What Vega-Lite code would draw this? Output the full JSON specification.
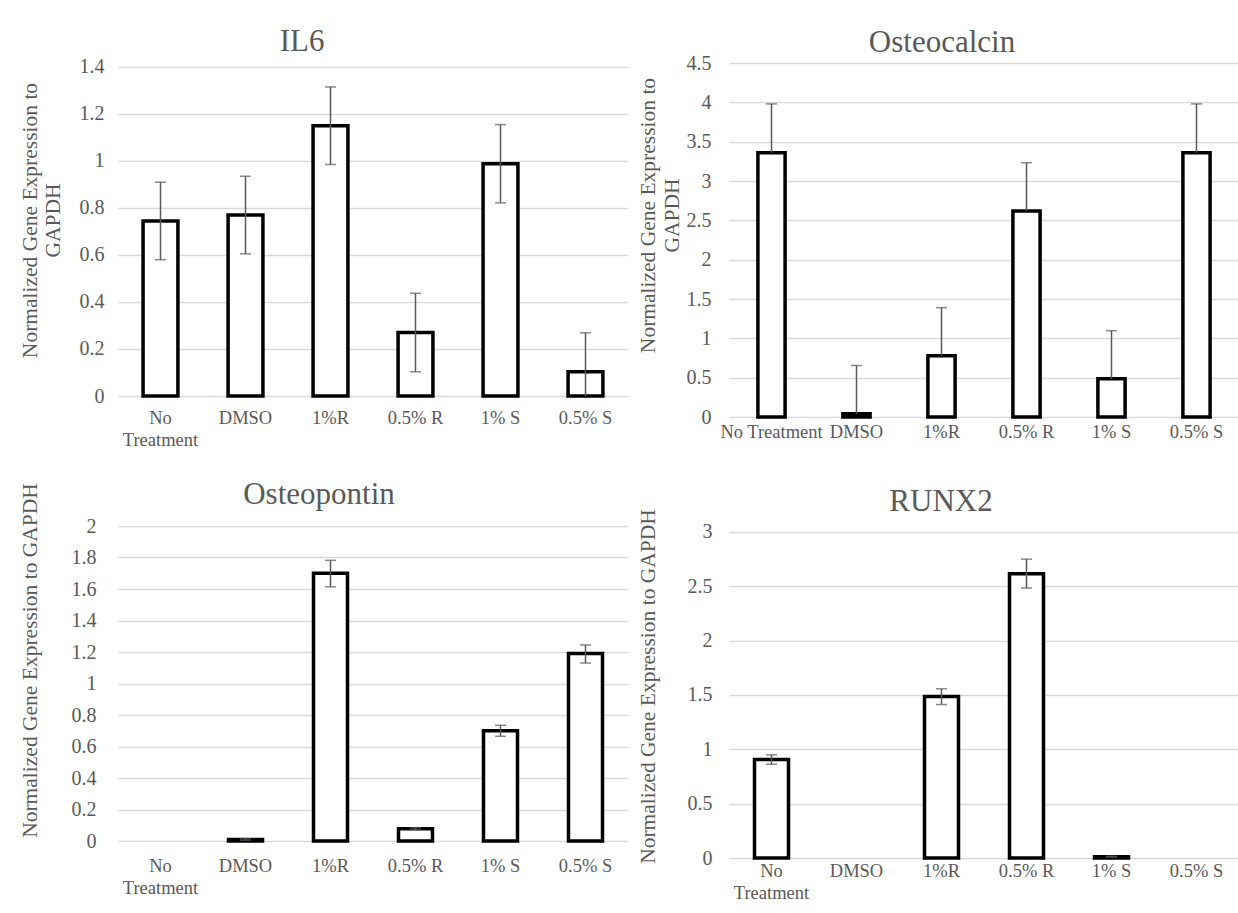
{
  "$schema": "https://vega.github.io/schema/vega-lite/v6.json",
  "background": "white",
  "padding": {"left": 18, "top": 25, "right": 0, "bottom": 0},
  "columns": 2,
  "bounds": "flush",
  "spacing": {"row": 109, "column": 101},
  "concat": [
    {
      "width": 510,
      "height": 333,
      "title": {"text": "IL6", "dx": -71, "offset": -25, "baseline": "alphabetic", "anchor": "middle"},
      "data": {"values": [
        {"treatment": "No Treatment", "value": 0.745, "lo": 0.58, "hi": 0.91, "capLo": 0.58},
        {"treatment": "DMSO", "value": 0.77, "lo": 0.605, "hi": 0.935, "capLo": 0.605},
        {"treatment": "1%R", "value": 1.15, "lo": 0.985, "hi": 1.315, "capLo": 0.985},
        {"treatment": "0.5% R", "value": 0.27, "lo": 0.103, "hi": 0.437, "capLo": 0.103},
        {"treatment": "1% S", "value": 0.988, "lo": 0.822, "hi": 1.155, "capLo": 0.822},
        {"treatment": "0.5% S", "value": 0.103, "lo": 0, "hi": 0.269, "capLo": null}
      ]},
      "encoding": {
        "x": {"field": "treatment", "type": "nominal", "sort": null,
              "scale": {"domain": ["No Treatment", "DMSO", "1%R", "0.5% R", "1% S", "0.5% S"], "paddingInner": 0.59, "paddingOuter": 0.295},
              "axis": {"title": null, "labelPadding": 12, "labelFont": "Liberation Serif", "labelFontSize": 18.5, "labelColor": "#595959", "labelLineHeight": 22, "labelAngle": 0, "grid": false, "domain": false, "ticks": false,
                       "labelExpr": "datum.value == 'No Treatment' ? ['No', 'Treatment'] : datum.value"}}
      },
      "layer": [
        {"mark": {"type": "bar", "fill": "white", "stroke": "black", "strokeWidth": 3.5},
         "encoding": {"y": {"field": "value", "type": "quantitative",
           "scale": {"domain": [0, 1.417], "nice": false},
           "axis": {"values": [0, 0.2, 0.4, 0.6, 0.8, 1, 1.2, 1.4], "format": "~g", "labelPadding": 14, "labelOverlap": false,
                    "labelFont": "Liberation Serif", "titleFont": "Liberation Serif", "labelFontSize": 20, "titleFontSize": 21.5,
                    "labelColor": "#595959", "titleColor": "#595959", "titleFontWeight": "normal", "domain": false, "ticks": false,
                    "gridColor": "#d9d9d9", "gridWidth": 1.3,
                    "title": ["Normalized Gene Expression to", "GAPDH"], "titleX": -88, "titleY": 157,
                    "titleAngle": 270, "titleAlign": "center", "titleBaseline": "middle", "titleLineHeight": 23}}}},
        {"mark": {"type": "rule", "color": "#595959", "strokeWidth": 1.5},
         "encoding": {"y": {"field": "lo", "type": "quantitative",
           "axis": {"values": [0, 0.2, 0.4, 0.6, 0.8, 1, 1.2, 1.4], "format": "~g", "labelPadding": 14, "labelOverlap": false,
                    "labelFont": "Liberation Serif", "titleFont": "Liberation Serif", "labelFontSize": 20, "titleFontSize": 21.5,
                    "labelColor": "#595959", "titleColor": "#595959", "titleFontWeight": "normal", "domain": false, "ticks": false,
                    "gridColor": "#d9d9d9", "gridWidth": 1.3,
                    "title": ["Normalized Gene Expression to", "GAPDH"], "titleX": -88, "titleY": 157,
                    "titleAngle": 270, "titleAlign": "center", "titleBaseline": "middle", "titleLineHeight": 23}}, "y2": {"field": "hi"}}},
        {"mark": {"type": "tick", "color": "#595959", "thickness": 1.5, "size": 11, "orient": "horizontal"},
         "encoding": {"y": {"field": "hi", "type": "quantitative",
           "axis": {"values": [0, 0.2, 0.4, 0.6, 0.8, 1, 1.2, 1.4], "format": "~g", "labelPadding": 14, "labelOverlap": false,
                    "labelFont": "Liberation Serif", "titleFont": "Liberation Serif", "labelFontSize": 20, "titleFontSize": 21.5,
                    "labelColor": "#595959", "titleColor": "#595959", "titleFontWeight": "normal", "domain": false, "ticks": false,
                    "gridColor": "#d9d9d9", "gridWidth": 1.3,
                    "title": ["Normalized Gene Expression to", "GAPDH"], "titleX": -88, "titleY": 157,
                    "titleAngle": 270, "titleAlign": "center", "titleBaseline": "middle", "titleLineHeight": 23}}}},
        {"mark": {"type": "tick", "color": "#595959", "thickness": 1.5, "size": 11, "orient": "horizontal"},
         "encoding": {"y": {"field": "capLo", "type": "quantitative",
           "axis": {"values": [0, 0.2, 0.4, 0.6, 0.8, 1, 1.2, 1.4], "format": "~g", "labelPadding": 14, "labelOverlap": false,
                    "labelFont": "Liberation Serif", "titleFont": "Liberation Serif", "labelFontSize": 20, "titleFontSize": 21.5,
                    "labelColor": "#595959", "titleColor": "#595959", "titleFontWeight": "normal", "domain": false, "ticks": false,
                    "gridColor": "#d9d9d9", "gridWidth": 1.3,
                    "title": ["Normalized Gene Expression to", "GAPDH"], "titleX": -88, "titleY": 157,
                    "titleAngle": 270, "titleAlign": "center", "titleBaseline": "middle", "titleLineHeight": 23}}}}
      ]
    },
    {
      "width": 510,
      "height": 354,
      "title": {"text": "Osteocalcin", "dx": -42, "offset": -30, "baseline": "alphabetic", "anchor": "middle"},
      "data": {"values": [
        {"treatment": "No Treatment", "value": 3.36, "lo": 3.36, "hi": 3.98},
        {"treatment": "DMSO", "value": 0.04, "lo": 0.04, "hi": 0.655},
        {"treatment": "1%R", "value": 0.78, "lo": 0.78, "hi": 1.39},
        {"treatment": "0.5% R", "value": 2.62, "lo": 2.62, "hi": 3.233},
        {"treatment": "1% S", "value": 0.485, "lo": 0.485, "hi": 1.097},
        {"treatment": "0.5% S", "value": 3.36, "lo": 3.36, "hi": 3.98}
      ]},
      "encoding": {
        "x": {"field": "treatment", "type": "nominal", "sort": null,
              "scale": {"domain": ["No Treatment", "DMSO", "1%R", "0.5% R", "1% S", "0.5% S"], "paddingInner": 0.68, "paddingOuter": 0.34},
              "axis": {"title": null, "labelPadding": 5, "labelFont": "Liberation Serif", "labelFontSize": 18.5, "labelColor": "#595959", "labelAngle": 0, "grid": false, "domain": false, "ticks": false}}
      },
      "layer": [
        {"mark": {"type": "bar", "fill": "white", "stroke": "black", "strokeWidth": 3.5},
         "encoding": {"y": {"field": "value", "type": "quantitative",
           "scale": {"domain": [0, 4.5], "nice": false},
           "axis": {"values": [0, 0.5, 1, 1.5, 2, 2.5, 3, 3.5, 4, 4.5], "format": "~g", "labelPadding": 18, "labelOverlap": false,
                    "labelFont": "Liberation Serif", "titleFont": "Liberation Serif", "labelFontSize": 20, "titleFontSize": 21.5,
                    "labelColor": "#595959", "titleColor": "#595959", "titleFontWeight": "normal", "domain": false, "ticks": false,
                    "gridColor": "#d9d9d9", "gridWidth": 1.3,
                    "title": ["Normalized Gene Expression to", "GAPDH"], "titleX": -81, "titleY": 152,
                    "titleAngle": 270, "titleAlign": "center", "titleBaseline": "middle", "titleLineHeight": 24}}}},
        {"mark": {"type": "rule", "color": "#595959", "strokeWidth": 1.5},
         "encoding": {"y": {"field": "lo", "type": "quantitative",
           "axis": {"values": [0, 0.5, 1, 1.5, 2, 2.5, 3, 3.5, 4, 4.5], "format": "~g", "labelPadding": 18, "labelOverlap": false,
                    "labelFont": "Liberation Serif", "titleFont": "Liberation Serif", "labelFontSize": 20, "titleFontSize": 21.5,
                    "labelColor": "#595959", "titleColor": "#595959", "titleFontWeight": "normal", "domain": false, "ticks": false,
                    "gridColor": "#d9d9d9", "gridWidth": 1.3,
                    "title": ["Normalized Gene Expression to", "GAPDH"], "titleX": -81, "titleY": 152,
                    "titleAngle": 270, "titleAlign": "center", "titleBaseline": "middle", "titleLineHeight": 24}}, "y2": {"field": "hi"}}},
        {"mark": {"type": "tick", "color": "#595959", "thickness": 1.5, "size": 11, "orient": "horizontal"},
         "encoding": {"y": {"field": "hi", "type": "quantitative",
           "axis": {"values": [0, 0.5, 1, 1.5, 2, 2.5, 3, 3.5, 4, 4.5], "format": "~g", "labelPadding": 18, "labelOverlap": false,
                    "labelFont": "Liberation Serif", "titleFont": "Liberation Serif", "labelFontSize": 20, "titleFontSize": 21.5,
                    "labelColor": "#595959", "titleColor": "#595959", "titleFontWeight": "normal", "domain": false, "ticks": false,
                    "gridColor": "#d9d9d9", "gridWidth": 1.3,
                    "title": ["Normalized Gene Expression to", "GAPDH"], "titleX": -81, "titleY": 152,
                    "titleAngle": 270, "titleAlign": "center", "titleBaseline": "middle", "titleLineHeight": 24}}}}
      ]
    },
    {
      "width": 510,
      "height": 315,
      "title": {"text": "Osteopontin", "dx": -54, "offset": -55, "baseline": "alphabetic", "anchor": "middle"},
      "data": {"values": [
        {"treatment": "No Treatment", "value": null, "lo": null, "hi": null, "capLo": null},
        {"treatment": "DMSO", "value": 0.01, "lo": 0.005, "hi": 0.015, "capLo": 0.005},
        {"treatment": "1%R", "value": 1.70, "lo": 1.614, "hi": 1.782, "capLo": 1.614},
        {"treatment": "0.5% R", "value": 0.078, "lo": 0.072, "hi": 0.084, "capLo": 0.072},
        {"treatment": "1% S", "value": 0.70, "lo": 0.665, "hi": 0.735, "capLo": 0.665},
        {"treatment": "0.5% S", "value": 1.19, "lo": 1.13, "hi": 1.245, "capLo": 1.13}
      ]},
      "encoding": {
        "x": {"field": "treatment", "type": "nominal", "sort": null,
              "scale": {"domain": ["No Treatment", "DMSO", "1%R", "0.5% R", "1% S", "0.5% S"], "paddingInner": 0.6, "paddingOuter": 0.3},
              "axis": {"title": null, "labelPadding": 15, "labelFont": "Liberation Serif", "labelFontSize": 18.5, "labelColor": "#595959", "labelLineHeight": 22, "labelAngle": 0, "grid": false, "domain": false, "ticks": false,
                       "labelExpr": "datum.value == 'No Treatment' ? ['No', 'Treatment'] : datum.value"}}
      },
      "layer": [
        {"mark": {"type": "bar", "fill": "white", "stroke": "black", "strokeWidth": 3.5},
         "encoding": {"y": {"field": "value", "type": "quantitative",
           "scale": {"domain": [0, 2], "nice": false},
           "axis": {"values": [0, 0.2, 0.4, 0.6, 0.8, 1, 1.2, 1.4, 1.6, 1.8, 2], "format": "~g", "labelPadding": 22, "labelOverlap": false,
                    "labelFont": "Liberation Serif", "titleFont": "Liberation Serif", "labelFontSize": 20, "titleFontSize": 21.5,
                    "labelColor": "#595959", "titleColor": "#595959", "titleFontWeight": "normal", "domain": false, "ticks": false,
                    "gridColor": "#d9d9d9", "gridWidth": 1.3,
                    "title": "Normalized Gene Expression to  GAPDH", "titleX": -88, "titleY": 134,
                    "titleAngle": 270, "titleAlign": "center", "titleBaseline": "middle"}}}},
        {"mark": {"type": "rule", "color": "#595959", "strokeWidth": 1.5},
         "encoding": {"y": {"field": "lo", "type": "quantitative",
           "axis": {"values": [0, 0.2, 0.4, 0.6, 0.8, 1, 1.2, 1.4, 1.6, 1.8, 2], "format": "~g", "labelPadding": 22, "labelOverlap": false,
                    "labelFont": "Liberation Serif", "titleFont": "Liberation Serif", "labelFontSize": 20, "titleFontSize": 21.5,
                    "labelColor": "#595959", "titleColor": "#595959", "titleFontWeight": "normal", "domain": false, "ticks": false,
                    "gridColor": "#d9d9d9", "gridWidth": 1.3,
                    "title": "Normalized Gene Expression to  GAPDH", "titleX": -88, "titleY": 134,
                    "titleAngle": 270, "titleAlign": "center", "titleBaseline": "middle"}}, "y2": {"field": "hi"}}},
        {"mark": {"type": "tick", "color": "#595959", "thickness": 1.5, "size": 11, "orient": "horizontal"},
         "encoding": {"y": {"field": "hi", "type": "quantitative",
           "axis": {"values": [0, 0.2, 0.4, 0.6, 0.8, 1, 1.2, 1.4, 1.6, 1.8, 2], "format": "~g", "labelPadding": 22, "labelOverlap": false,
                    "labelFont": "Liberation Serif", "titleFont": "Liberation Serif", "labelFontSize": 20, "titleFontSize": 21.5,
                    "labelColor": "#595959", "titleColor": "#595959", "titleFontWeight": "normal", "domain": false, "ticks": false,
                    "gridColor": "#d9d9d9", "gridWidth": 1.3,
                    "title": "Normalized Gene Expression to  GAPDH", "titleX": -88, "titleY": 134,
                    "titleAngle": 270, "titleAlign": "center", "titleBaseline": "middle"}}}},
        {"mark": {"type": "tick", "color": "#595959", "thickness": 1.5, "size": 11, "orient": "horizontal"},
         "encoding": {"y": {"field": "capLo", "type": "quantitative",
           "axis": {"values": [0, 0.2, 0.4, 0.6, 0.8, 1, 1.2, 1.4, 1.6, 1.8, 2], "format": "~g", "labelPadding": 22, "labelOverlap": false,
                    "labelFont": "Liberation Serif", "titleFont": "Liberation Serif", "labelFontSize": 20, "titleFontSize": 21.5,
                    "labelColor": "#595959", "titleColor": "#595959", "titleFontWeight": "normal", "domain": false, "ticks": false,
                    "gridColor": "#d9d9d9", "gridWidth": 1.3,
                    "title": "Normalized Gene Expression to  GAPDH", "titleX": -88, "titleY": 134,
                    "titleAngle": 270, "titleAlign": "center", "titleBaseline": "middle"}}}}
      ]
    },
    {
      "width": 510,
      "height": 332,
      "title": {"text": "RUNX2", "dx": -43, "offset": -33, "baseline": "alphabetic", "anchor": "middle"},
      "data": {"values": [
        {"treatment": "No Treatment", "value": 0.906, "lo": 0.863, "hi": 0.95, "capLo": 0.863},
        {"treatment": "DMSO", "value": null, "lo": null, "hi": null, "capLo": null},
        {"treatment": "1%R", "value": 1.486, "lo": 1.412, "hi": 1.557, "capLo": 1.412},
        {"treatment": "0.5% R", "value": 2.616, "lo": 2.484, "hi": 2.75, "capLo": 2.484},
        {"treatment": "1% S", "value": 0.012, "lo": 0.008, "hi": 0.016, "capLo": 0.008},
        {"treatment": "0.5% S", "value": null, "lo": null, "hi": null, "capLo": null}
      ]},
      "encoding": {
        "x": {"field": "treatment", "type": "nominal", "sort": null,
              "scale": {"domain": ["No Treatment", "DMSO", "1%R", "0.5% R", "1% S", "0.5% S"], "paddingInner": 0.6, "paddingOuter": 0.3},
              "axis": {"title": null, "labelPadding": 3, "labelFont": "Liberation Serif", "labelFontSize": 18.5, "labelColor": "#595959", "labelLineHeight": 22, "labelAngle": 0, "grid": false, "domain": false, "ticks": false,
                       "labelExpr": "datum.value == 'No Treatment' ? ['No', 'Treatment'] : datum.value"}}
      },
      "layer": [
        {"mark": {"type": "bar", "fill": "white", "stroke": "black", "strokeWidth": 3.5},
         "encoding": {"y": {"field": "value", "type": "quantitative",
           "scale": {"domain": [0, 3.055], "nice": false},
           "axis": {"values": [0, 0.5, 1, 1.5, 2, 2.5, 3], "format": "~g", "labelPadding": 17, "labelOverlap": false,
                    "labelFont": "Liberation Serif", "titleFont": "Liberation Serif", "labelFontSize": 20, "titleFontSize": 21.5,
                    "labelColor": "#595959", "titleColor": "#595959", "titleFontWeight": "normal", "domain": false, "ticks": false,
                    "gridColor": "#d9d9d9", "gridWidth": 1.3,
                    "title": "Normalized Gene Expression to GAPDH", "titleX": -81, "titleY": 160,
                    "titleAngle": 270, "titleAlign": "center", "titleBaseline": "middle"}}}},
        {"mark": {"type": "rule", "color": "#595959", "strokeWidth": 1.5},
         "encoding": {"y": {"field": "lo", "type": "quantitative",
           "axis": {"values": [0, 0.5, 1, 1.5, 2, 2.5, 3], "format": "~g", "labelPadding": 17, "labelOverlap": false,
                    "labelFont": "Liberation Serif", "titleFont": "Liberation Serif", "labelFontSize": 20, "titleFontSize": 21.5,
                    "labelColor": "#595959", "titleColor": "#595959", "titleFontWeight": "normal", "domain": false, "ticks": false,
                    "gridColor": "#d9d9d9", "gridWidth": 1.3,
                    "title": "Normalized Gene Expression to GAPDH", "titleX": -81, "titleY": 160,
                    "titleAngle": 270, "titleAlign": "center", "titleBaseline": "middle"}}, "y2": {"field": "hi"}}},
        {"mark": {"type": "tick", "color": "#595959", "thickness": 1.5, "size": 11, "orient": "horizontal"},
         "encoding": {"y": {"field": "hi", "type": "quantitative",
           "axis": {"values": [0, 0.5, 1, 1.5, 2, 2.5, 3], "format": "~g", "labelPadding": 17, "labelOverlap": false,
                    "labelFont": "Liberation Serif", "titleFont": "Liberation Serif", "labelFontSize": 20, "titleFontSize": 21.5,
                    "labelColor": "#595959", "titleColor": "#595959", "titleFontWeight": "normal", "domain": false, "ticks": false,
                    "gridColor": "#d9d9d9", "gridWidth": 1.3,
                    "title": "Normalized Gene Expression to GAPDH", "titleX": -81, "titleY": 160,
                    "titleAngle": 270, "titleAlign": "center", "titleBaseline": "middle"}}}},
        {"mark": {"type": "tick", "color": "#595959", "thickness": 1.5, "size": 11, "orient": "horizontal"},
         "encoding": {"y": {"field": "capLo", "type": "quantitative",
           "axis": {"values": [0, 0.5, 1, 1.5, 2, 2.5, 3], "format": "~g", "labelPadding": 17, "labelOverlap": false,
                    "labelFont": "Liberation Serif", "titleFont": "Liberation Serif", "labelFontSize": 20, "titleFontSize": 21.5,
                    "labelColor": "#595959", "titleColor": "#595959", "titleFontWeight": "normal", "domain": false, "ticks": false,
                    "gridColor": "#d9d9d9", "gridWidth": 1.3,
                    "title": "Normalized Gene Expression to GAPDH", "titleX": -81, "titleY": 160,
                    "titleAngle": 270, "titleAlign": "center", "titleBaseline": "middle"}}}}
      ]
    }
  ],
  "config": {
    "view": {"stroke": null},
    "font": "Liberation Serif",
    "axis": {"labelFont": "Liberation Serif", "titleFont": "Liberation Serif", "labelColor": "#595959", "titleColor": "#595959",
             "titleFontWeight": "normal", "domain": false, "ticks": false, "tickSize": 0,
             "gridColor": "#d9d9d9", "gridWidth": 1.3},
    "title": {"font": "Liberation Serif", "fontSize": 31, "fontWeight": "normal", "color": "#595959"}
  }
}
